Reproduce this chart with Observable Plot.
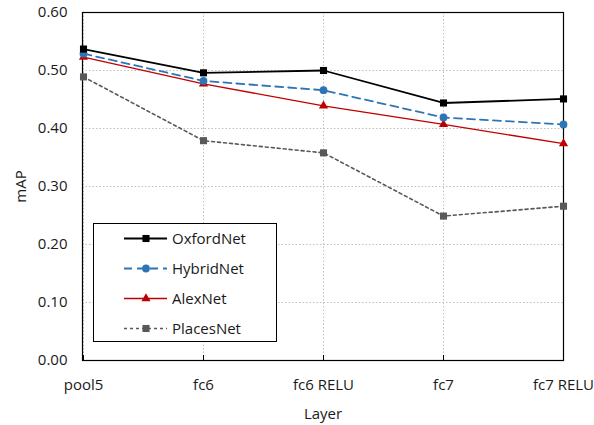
<!DOCTYPE html>
<html>
<head>
<meta charset="utf-8">
<script src="https://cdn.jsdelivr.net/npm/d3@7"></script>
<script src="https://cdn.jsdelivr.net/npm/@observablehq/plot@0.6"></script>
<style>
  html, body { margin: 0; padding: 0; background: white; }
  #wrap { position: relative; width: 594px; height: 425px; font-family: 'Open Sans', sans-serif; }
  #legend { position: absolute; left: 93px; top: 223px; width: 184px; height: 119px; border: 1px solid #000; background: white; box-sizing: border-box; }
  .row { position: absolute; left: 0; height: 20px; display: flex; align-items: center; }
  .row span { font-size: 15px; color: #1a1a1a; margin-left: 5px; line-height: 20px; }
</style>
</head>
<body>
<div id="wrap"></div>
<script>
const layers = ["pool5", "fc6", "fc6 RELU", "fc7", "fc7 RELU"];
const seriesNames = ["OxfordNet", "HybridNet", "AlexNet", "PlacesNet"];
const oxfordNet = [0.537, 0.496, 0.500, 0.444, 0.451];
const hybridNet = [0.529, 0.482, 0.466, 0.419, 0.407];
const alexNet   = [0.523, 0.477, 0.439, 0.407, 0.374];
const placesNet = [0.489, 0.379, 0.358, 0.249, 0.266];
const yTicks = [0, 0.1, 0.2, 0.3, 0.4, 0.5, 0.6];

const seriesValues = [oxfordNet, hybridNet, alexNet, placesNet];
const styles = {
  OxfordNet: {color: "#000000", dash: null, symbol: "square", r: 4, width: 1.8},
  HybridNet: {color: "#2e75b6", dash: "8,5", symbol: "circle", r: 3.9, width: 1.8},
  AlexNet:   {color: "#c00000", dash: null, symbol: "triangle", r: 3.4, width: 1.3},
  PlacesNet: {color: "#595959", dash: "3,3", symbol: "square", r: 4, width: 1.6}
};

const rows = [];
seriesNames.forEach((s, i) => layers.forEach((l, j) => rows.push({series: s, layer: l, value: seriesValues[i][j]})));

const drawOrder = ["PlacesNet", "AlexNet", "HybridNet", "OxfordNet"];
const seriesMarks = drawOrder.flatMap(s => {
  const st = styles[s];
  const data = rows.filter(d => d.series === s);
  return [
    Plot.line(data, {x: "layer", y: "value", stroke: st.color, strokeWidth: st.width, strokeDasharray: st.dash || undefined}),
    Plot.dot(data, {x: "layer", y: "value", symbol: st.symbol, r: st.r, fill: st.color, stroke: "none"})
  ];
});

const chart = Plot.plot({
  width: 594, height: 425,
  marginLeft: 82, marginRight: 31, marginTop: 12, marginBottom: 65,
  style: {fontFamily: "'Open Sans', sans-serif", fontSize: "15px", color: "#1a1a1a", background: "white", overflow: "visible"},
  x: {type: "point", domain: layers, padding: 0},
  y: {domain: [0, 0.6]},
  marks: [
    Plot.gridY(yTicks, {stroke: "#bfbfbf", strokeOpacity: 1, strokeDasharray: "1.5,2"}),
    Plot.gridX(layers, {stroke: "#bfbfbf", strokeOpacity: 1, strokeDasharray: "1.5,2"}),
    Plot.axisY(yTicks, {tickSize: 0, tickPadding: 15, tickFormat: d => d.toFixed(2), label: "mAP", labelAnchor: "center", labelArrow: "none", labelOffset: 67, fontSize: 15}),
    Plot.axisX({tickSize: 0, tickPadding: 19, label: null, fontSize: 15}),
    Plot.axisX({tickSize: 0, text: null, label: "Layer", labelAnchor: "center", labelArrow: "none", labelOffset: 58, dx: -10, fontSize: 15}),
    Plot.axisX({tickSize: 5, text: null, label: null, dy: -5, stroke: "#000"}),
    Plot.frame({stroke: "#000", strokeWidth: 1.2}),
    ...seriesMarks
  ]
});
const wrap = document.getElementById("wrap");
wrap.appendChild(chart);

// legend
const legend = document.createElement("div");
legend.id = "legend";
seriesNames.forEach((s, i) => {
  const st = styles[s];
  const row = document.createElement("div");
  row.className = "row";
  row.style.top = (4 + i * 30) + "px";
  row.style.left = "30px";
  const sw = Plot.plot({
    width: 43, height: 20, margin: 0,
    x: {domain: [0, 1], axis: null}, y: {domain: [0, 1], axis: null},
    style: {overflow: "visible", background: "transparent"},
    marks: [
      Plot.ruleY([0.5], {x1: 0, x2: 1, stroke: st.color, strokeWidth: st.width, strokeDasharray: st.dash || undefined}),
      Plot.dot([{x: 0.5, y: 0.5}], {x: "x", y: "y", symbol: st.symbol, r: st.r, fill: st.color})
    ]
  });
  row.appendChild(sw);
  const t = document.createElement("span");
  t.textContent = s;
  row.appendChild(t);
  legend.appendChild(row);
});
wrap.appendChild(legend);
</script>
</body>
</html>
